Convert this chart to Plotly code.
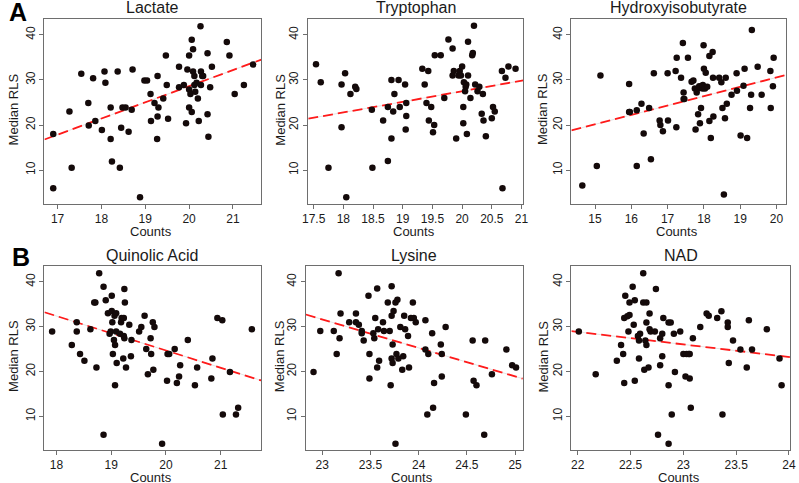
import plotly.graph_objects as go

# ---------------- data ----------------
panel_titles = ["Lactate", "Tryptophan", "Hydroxyisobutyrate",
                "Quinolic Acid", "Lysine", "NAD"]

lactate_x = [16.90,16.90,17.27,17.32,17.54,17.70,17.71,17.81,17.86,18.01,18.07,18.09,18.21,18.21,18.24,
             18.37,18.42,18.45,18.48,18.55,18.62,18.71,18.69,18.88,18.98,19.04,19.12,19.13,19.21,19.27,
             19.28,19.28,19.30,19.41,19.47,19.49,19.52,19.77,19.77,19.88,19.93,19.96,20.00,20.00,20.00,
             20.03,20.06,20.06,20.09,20.09,20.12,20.12,20.14,20.17,20.20,20.22,20.26,20.27,20.27,20.30,
             20.32,20.42,20.42,20.44,20.48,20.52,20.86,20.92,21.04,21.25,21.46]
lactate_y = [18,6,23,10.5,31.4,24.9,19.9,30.4,20.9,18.9,31.9,29.4,23.9,16.9,11.9,
             31.9,10.5,19.4,23.9,23.9,18.5,32.3,23.4,4,29.9,29.9,26.9,20.9,24.9,16.9,
             30.9,21.9,23.9,25.9,35.4,28.9,21.4,32.9,28.4,28.9,20.4,32.3,35.4,23.9,27.9,
             26.9,22.9,38.9,36.8,31.9,28.9,30.9,27.4,29.4,25.9,20.9,41.9,28.9,31.9,30.9,
             30.9,35.9,22.4,17.4,28.4,32.9,38.4,35.4,26.9,28.9,33.4]

tryptophan_x = [17.54,17.62,17.75,17.97,17.97,18.03,18.05,18.12,18.20,18.22,18.48,18.49,18.67,18.75,18.75,
                18.81,18.81,18.84,18.86,18.93,18.95,19.04,19.05,19.06,19.06,19.33,19.37,19.40,19.43,19.44,
                19.48,19.51,19.53,19.54,19.64,19.70,19.77,19.84,19.84,19.86,19.90,19.94,19.96,19.98,20.00,
                20.02,20.02,20.03,20.05,20.06,20.07,20.08,20.10,20.10,20.14,20.17,20.18,20.20,20.22,20.26,
                20.29,20.33,20.35,20.36,20.40,20.50,20.52,20.55,20.67,20.68,20.73,20.78,20.90]
tryptophan_y = [33.5,29.5,10.5,29,19.5,31.5,4,26.9,28.5,28,23.4,10.5,21,24,12,
                30,17,23,26.9,30,24,29,19,22,24.9,32.5,29,24.9,32,21,
                24,18.4,20,35.5,35.5,26,39,37,31,32,17,31,32,31,33,
                20.4,24,29.5,27.5,28.5,29,18,38.5,31,26,35.5,36,42,29,27.5,
                28.5,22.5,26.9,21,17.5,21.5,24,23,32,6,30.5,33,32.5]

hydroxy_x = [14.65,15.05,15.15,15.94,15.94,15.96,16.15,16.15,16.28,16.34,16.49,16.54,16.62,16.78,16.80,
             16.87,17.00,17.01,17.22,17.24,17.25,17.37,17.42,17.44,17.44,17.46,17.56,17.66,17.71,17.75,
             17.77,17.80,17.84,17.84,17.87,17.89,17.92,17.96,17.97,17.99,18.00,18.03,18.05,18.09,18.15,
             18.15,18.19,18.24,18.25,18.26,18.42,18.48,18.51,18.55,18.58,18.60,18.63,18.76,18.90,18.91,
             19.01,19.09,19.12,19.19,19.27,19.30,19.32,19.48,19.59,19.83,19.84,19.90,19.92]
hydroxy_y = [6.6,10.9,31,29.1,22.9,22.9,23.3,10.9,24.7,18.1,23.8,12.4,31.5,21,20,
             18.6,31.5,21,32,19.5,34.9,30.5,38.2,27.2,25.8,25.8,34.9,29.6,29.9,28.1,
             19,27.2,28.1,22.4,28.6,20.4,23.8,28.1,28.9,37.7,32.5,28.1,31.6,28.5,20.9,
             35.3,17.1,36.2,30.5,21.9,30.5,29.5,23.8,4.6,21.5,30.5,24.7,26.7,31.5,27.6,
             17.7,28.7,32.5,17.1,23.8,26.7,41.1,32.9,26.7,32,23.8,28.6,34.9]

quinolic_x = [17.92,18.28,18.37,18.37,18.43,18.51,18.62,18.69,18.71,18.73,18.78,18.86,18.86,18.90,18.94,
              18.97,18.99,19.01,19.01,19.02,19.03,19.05,19.06,19.07,19.07,19.09,19.09,19.10,19.16,19.18,
              19.19,19.22,19.23,19.23,19.24,19.24,19.25,19.27,19.33,19.36,19.37,19.51,19.55,19.61,19.64,
              19.67,19.72,19.73,19.76,19.77,19.79,19.93,20.02,20.03,20.06,20.16,20.20,20.24,20.26,20.40,
              20.53,20.57,20.83,20.85,20.94,21.03,21.04,21.17,21.28,21.32,21.57]
quinolic_y = [28.9,25.9,31,28.9,23.9,22.4,29.4,35.4,35.4,20.9,41.9,38.9,5.9,35.9,33,
              28.4,28.9,36.9,33.5,31,23.9,27,32.4,16.9,25.9,33,28.9,21.9,28.4,31,
              31.9,22.9,31.9,27.9,27.4,38.4,35.4,20.9,30.4,23.4,27,28.9,29.9,32.4,25,
              19.4,27.4,23.9,31,20.4,29.9,3.9,17.9,23.9,23.9,25,17.4,18.9,21.4,27,
              16.9,20.9,18.4,22.9,31.9,31.4,10.4,19.9,10.4,11.9,29.4]

lysine_x = [22.91,22.98,23.12,23.15,23.17,23.18,23.19,23.28,23.35,23.35,23.38,23.41,23.41,23.43,23.48,
            23.49,23.49,23.53,23.54,23.55,23.57,23.57,23.58,23.59,23.63,23.64,23.68,23.70,23.71,23.72,
            23.72,23.72,23.73,23.73,23.74,23.76,23.76,23.77,23.78,23.79,23.81,23.83,23.84,23.85,23.86,
            23.89,23.90,23.92,23.94,23.95,23.97,24.07,24.07,24.09,24.10,24.14,24.15,24.16,24.23,24.24,
            24.24,24.28,24.49,24.56,24.57,24.60,24.68,24.69,24.76,24.91,24.97,25.01]
lysine_y = [19.9,29,29,23.9,41.9,27.4,32.9,31,32.9,31,30.4,29,28.5,26.9,36.9,
            23.9,18.4,28.5,27.4,31.9,38.5,20.9,29.4,22.4,31,29,35.4,29,16.9,22.9,
            32.4,39,26,21.9,33.5,3.9,35.4,23.9,36,22.9,29.9,20.4,23.4,32.4,29.4,
            27.9,20.9,31.9,35.4,31.9,31,31.4,24.9,10.4,23.9,28.5,11.9,17.4,26,18.9,
            23.9,29.9,10.4,26.9,17.9,16.9,5.9,26.9,19.4,24.9,21.4,20.9]

nad_x = [22.01,22.17,22.37,22.41,22.43,22.44,22.44,22.45,22.47,22.48,22.49,22.49,22.52,22.53,22.54,
         22.54,22.57,22.58,22.58,22.59,22.62,22.62,22.63,22.64,22.65,22.65,22.65,22.67,22.68,22.68,
         22.69,22.73,22.74,22.76,22.78,22.78,22.80,22.80,22.81,22.86,22.86,22.86,22.88,22.89,22.91,
         22.92,22.97,23.00,23.02,23.03,23.05,23.06,23.06,23.07,23.09,23.16,23.22,23.24,23.32,23.36,
         23.37,23.42,23.42,23.43,23.47,23.54,23.60,23.62,23.65,23.79,23.91,23.93]
nad_y = [28.9,19.4,22.4,25.9,23.9,17.4,31.9,36.9,32.3,28.9,32.6,35.4,38.9,30.4,35.9,
         17.9,27.9,22.9,26.9,28.4,41.9,35.4,20.4,26.9,25.9,30.9,35.4,20.9,32.9,29.4,
         28.9,28.9,38.4,5.9,27.4,21.4,28.4,23.4,31.9,30.9,16.9,3.9,30.9,10.4,28.4,
         19.9,28.9,23.9,18.9,23.9,23.9,18.4,23.9,11.9,27.4,29.9,32.9,32.4,31.9,33.4,
         10.4,30.9,29.9,21.9,26.9,24.9,20.9,31.4,24.9,29.4,22.9,16.9]

# regression lines (intercept, slope)
fit_intercepts = [-42.99, -19.51, -11.05, 101.48, 177.90, 90.43]
fit_slopes = [3.58, 2.35, 2.08, -3.84, -6.36, -2.80]

x_tickvals = [[17, 18, 19, 20, 21],
              [17.5, 18, 18.5, 19, 19.5, 20, 20.5, 21],
              [15, 16, 17, 18, 19, 20],
              [18, 19, 20, 21],
              [23, 23.5, 24, 24.5, 25],
              [22, 22.5, 23, 23.5, 24]]
y_tickvals = [10, 20, 30, 40]

series_x = [lactate_x, tryptophan_x, hydroxy_x, quinolic_x, lysine_x, nad_x]
series_y = [lactate_y, tryptophan_y, hydroxy_y, quinolic_y, lysine_y, nad_y]

# ---------------- layout geometry ----------------
W, H = 799, 483
x_ranges = [[16.70, 21.65], [17.41, 21.03], [14.35, 20.25],
            [17.78, 21.74], [22.83, 25.08], [21.94, 24.01]]
y_range = [2.48, 43.52]
box_px = [(39, 259), (306.5, 524.5), (573.3, 790.5),
          (39, 258.7), (304, 524), (573.3, 795)]
row_px = [(19, 204), (19, 204), (19, 204), (266, 450), (266, 450), (266, 450)]
ylab_px = [8, 278, 544, 7, 277, 545]
counts_off = [28, 28, 28, 27, 27, 27]

FONT = "Liberation Sans, Arial, Helvetica, sans-serif"
TXT = "#1a1a1a"
LINEC = "#6e6e6e"

fig = go.Figure()
layout = dict(width=W, height=H, margin=dict(l=0, r=0, t=0, b=0, pad=0),
              paper_bgcolor="white", plot_bgcolor="white", showlegend=False,
              font=dict(family=FONT, color=TXT))
annotations = []

def px(x):
    return x / W

def py(y):
    return 1 - y / H

for i in range(6):
    n = "" if i == 0 else str(i + 1)
    xa, ya = "x" + n, "y" + n
    x0, x1 = x_ranges[i]
    lx = [x0, x1]
    ly = [fit_intercepts[i] + fit_slopes[i] * v for v in lx]
    fig.add_trace(go.Scatter(x=lx, y=ly, mode="lines", xaxis=xa, yaxis=ya,
                             line=dict(color="#e4e4e4", width=1), hoverinfo="skip"))
    fig.add_trace(go.Scatter(x=lx, y=ly, mode="lines", xaxis=xa, yaxis=ya,
                             line=dict(color="#ff1a1a", width=1.8, dash="10px,5px"),
                             hoverinfo="skip"))
    fig.add_trace(go.Scatter(x=series_x[i], y=series_y[i], mode="markers",
                             xaxis=xa, yaxis=ya,
                             marker=dict(color="#140a0a", size=6.5, line=dict(width=0))))
    bl, br = box_px[i]
    bt, bb = row_px[i]
    common = dict(showline=True, mirror=True, linecolor=LINEC, linewidth=1,
                  ticks="outside", ticklen=4, tickcolor=LINEC, tickwidth=1,
                  showgrid=False, zeroline=False,
                  tickfont=dict(size=12, family=FONT, color=TXT))
    layout["xaxis" + n] = dict(domain=[px(bl), px(br)], range=x_ranges[i],
                               anchor=ya, tickmode="array", tickvals=x_tickvals[i],
                               **common)
    layout["yaxis" + n] = dict(domain=[py(bb), py(bt)], range=y_range,
                               anchor=xa, tickmode="array", tickvals=y_tickvals,
                               tickangle=-90, **common)
    cx = (bl + br) / 2
    annotations.append(dict(text=panel_titles[i], x=px(cx), y=py(bt - 11),
                            xref="paper", yref="paper", showarrow=False,
                            xanchor="center", yanchor="middle",
                            font=dict(size=16, family=FONT, color=TXT)))
    annotations.append(dict(text="Counts", x=px(cx - 2), y=py(bb + counts_off[i]),
                            xref="paper", yref="paper", showarrow=False,
                            xanchor="center", yanchor="middle",
                            font=dict(size=13, family=FONT, color=TXT)))
    annotations.append(dict(text="Median RLS", x=px(ylab_px[i]), y=py((bt + bb) / 2 - 2),
                            xref="paper", yref="paper", showarrow=False, textangle=-90,
                            xanchor="center", yanchor="middle",
                            font=dict(size=13, family=FONT, color=TXT)))

annotations.append(dict(text="<b>A</b>", x=px(12), y=py(12), xref="paper", yref="paper",
                        showarrow=False, xanchor="center", yanchor="middle",
                        font=dict(size=25, family=FONT, color="black")))
annotations.append(dict(text="<b>B</b>", x=px(15), y=py(256.5), xref="paper", yref="paper",
                        showarrow=False, xanchor="center", yanchor="middle",
                        font=dict(size=25, family=FONT, color="black")))
layout["annotations"] = annotations
fig.update_layout(**layout)
fig.write_html("out.html",
               config={"displayModeBar": False},
               post_script="document.body.style.margin='0px';document.body.style.padding='0px';"
                           "document.body.style.overflow='hidden';")
